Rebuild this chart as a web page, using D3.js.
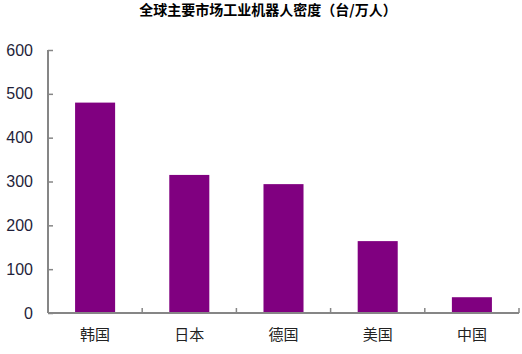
<!DOCTYPE html>
<html>
<head>
<meta charset="utf-8">
<script src="https://cdn.jsdelivr.net/npm/d3@7"></script>
<style>
  body { margin: 0; background: #fff; }
</style>
</head>
<body>
<div id="svgContainer"></div>
<script>
var countries = ["韩国", "日本", "德国", "美国", "中国"]
var density = [480, 315, 294, 164, 36]
var yTicks = [0, 100, 200, 300, 400, 500, 600]

function drawChart() {
    let width = 522, height = 354;
    var margin = { top: 50, right: 3, bottom: 41, left: 48 },
        inner_width = width - margin.left - margin.right,
        inner_height = height - margin.top - margin.bottom;

    var svg = d3.select("#svgContainer")
        .append("svg")
        .attr("width", width)
        .attr("height", height)
        .style("font-family", "Arial, 'Liberation Sans', sans-serif");

    // title
    svg.append("text")
        .attr("x", 268)
        .attr("y", 15)
        .attr("text-anchor", "middle")
        .style("font-family", "'Noto Sans CJK SC', sans-serif")
        .style("font-size", "14px")
        .style("font-weight", "bold")
        .text("全球主要市场工业机器人密度（台/万人）");

    var g = svg.append("g")
        .attr("transform", `translate(${margin.left},${margin.top})`);

    var xScale = d3.scaleBand()
        .domain(countries)
        .range([0, inner_width])
        .paddingInner(0.575)
        .paddingOuter(0.2875);
    var yScale = d3.scaleLinear()
        .domain([0, 600])
        .range([inner_height, 0]);

    // bars
    g.selectAll("rect.bar")
        .data(countries)
        .enter()
        .append("rect")
        .attr("class", "bar")
        .attr("x", d => xScale(d))
        .attr("width", xScale.bandwidth())
        .attr("y", (d, i) => yScale(density[i]))
        .attr("height", (d, i) => inner_height - yScale(density[i]))
        .attr("fill", "#800080");

    // y axis
    var yAxis = g.append("g")
        .call(d3.axisLeft(yScale).tickValues(yTicks).tickSize(-5).tickPadding(15));
    yAxis.select(".domain").attr("d", `M0,0V${inner_height}`).attr("stroke", "#868686").attr("stroke-width", 2);
    yAxis.selectAll(".tick line").attr("stroke", "#868686").attr("stroke-width", 1.5);
    yAxis.selectAll(".tick text")
        .style("font-size", "16px")
        .attr("fill", "#1f1f3a");

    // x axis with ticks between categories
    var xAxis = g.append("g")
        .attr("transform", `translate(0,${inner_height})`);
    xAxis.append("path")
        .attr("d", `M0,0H${inner_width}`)
        .attr("stroke", "#868686")
        .attr("stroke-width", 2);
    var step = xScale.step();
    xAxis.selectAll("line.sep")
        .data(countries)
        .enter()
        .append("line")
        .attr("class", "sep")
        .attr("x1", (d, i) => (i + 1) * step)
        .attr("x2", (d, i) => (i + 1) * step)
        .attr("y1", 0)
        .attr("y2", -5)
        .attr("stroke", "#868686")
        .attr("stroke-width", 1.5);
    xAxis.selectAll("text.lbl")
        .data(countries)
        .enter()
        .append("text")
        .attr("class", "lbl")
        .attr("x", d => xScale(d) + xScale.bandwidth() / 2)
        .attr("y", 27)
        .attr("text-anchor", "middle")
        .style("font-family", "'Noto Sans CJK SC', sans-serif")
        .style("font-size", "15px")
        .attr("fill", "#222")
        .text(d => d);
}
drawChart();
</script>
</body>
</html>
